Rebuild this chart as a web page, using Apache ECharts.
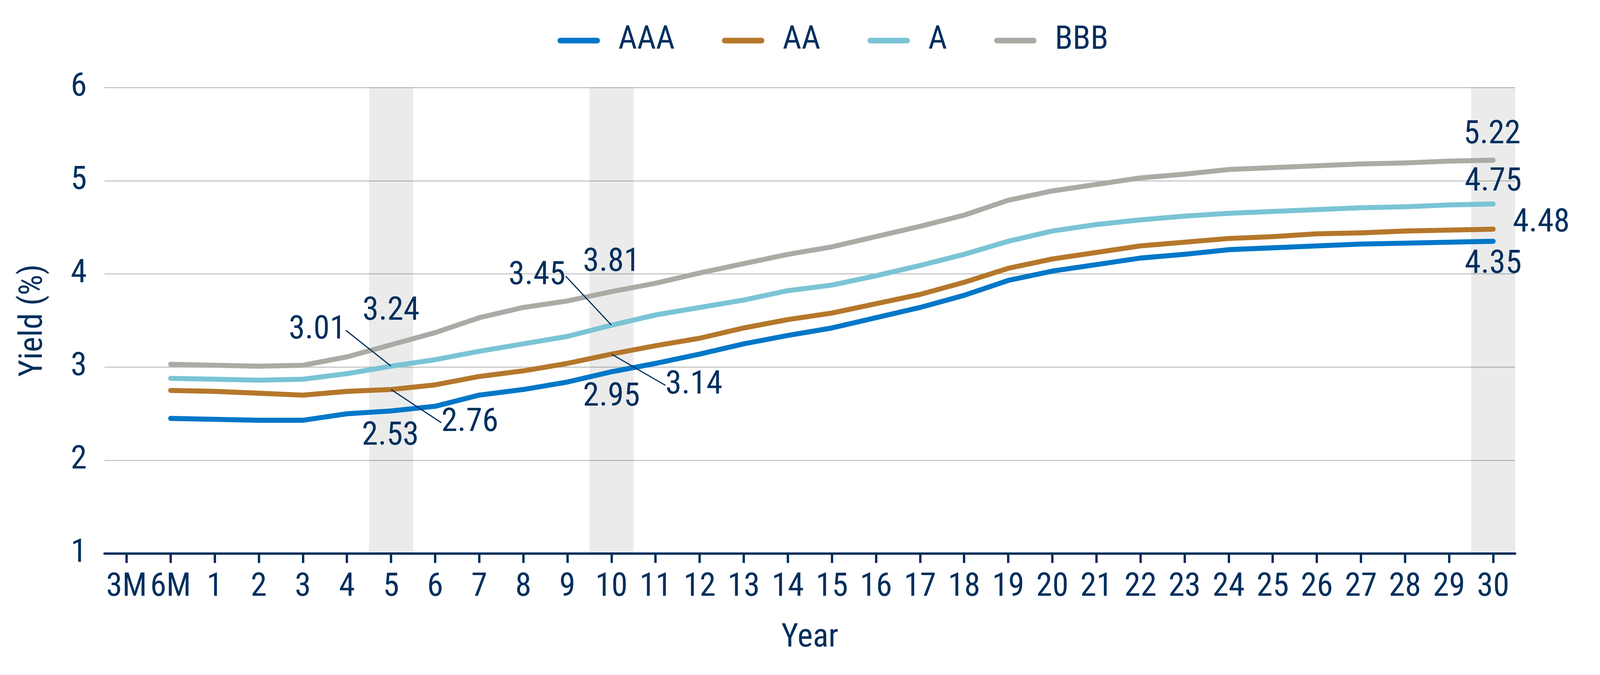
<!DOCTYPE html>
<html>
<head>
<meta charset="utf-8">
<script src="https://cdn.jsdelivr.net/npm/echarts@6/dist/echarts.min.js"></script>
<style>
  html, body { margin: 0; padding: 0; background: #ffffff; overflow: hidden; }
  #chart { position: absolute; left: 0; top: 0; }
</style>
</head>
<body>
<div id="chart"></div>
<script>
// ---------- data ----------
const categories = ['3M', '6M', '1', '2', '3', '4', '5', '6', '7', '8', '9', '10',
  '11', '12', '13', '14', '15', '16', '17', '18', '19', '20',
  '21', '22', '23', '24', '25', '26', '27', '28', '29', '30'];

const seriesNames = ['AAA', 'AA', 'A', 'BBB'];

const aaa = [null, 2.45, 2.44, 2.43, 2.43, 2.50, 2.53, 2.58, 2.70, 2.76, 2.84, 2.95,
  3.04, 3.14, 3.25, 3.34, 3.42, 3.53, 3.64, 3.77, 3.93, 4.03,
  4.10, 4.17, 4.21, 4.26, 4.28, 4.30, 4.32, 4.33, 4.34, 4.35];
const aa = [null, 2.75, 2.74, 2.72, 2.70, 2.74, 2.76, 2.81, 2.90, 2.96, 3.04, 3.14,
  3.23, 3.31, 3.42, 3.51, 3.58, 3.68, 3.78, 3.91, 4.06, 4.16,
  4.23, 4.30, 4.34, 4.38, 4.40, 4.43, 4.44, 4.46, 4.47, 4.48];
const a = [null, 2.88, 2.87, 2.86, 2.87, 2.93, 3.01, 3.08, 3.17, 3.25, 3.33, 3.45,
  3.56, 3.64, 3.72, 3.82, 3.88, 3.98, 4.09, 4.21, 4.35, 4.46,
  4.53, 4.58, 4.62, 4.65, 4.67, 4.69, 4.71, 4.72, 4.74, 4.75];
const bbb = [null, 3.03, 3.02, 3.01, 3.02, 3.11, 3.24, 3.37, 3.53, 3.64, 3.71, 3.81,
  3.90, 4.01, 4.11, 4.21, 4.29, 4.40, 4.51, 4.63, 4.79, 4.89,
  4.96, 5.03, 5.07, 5.12, 5.14, 5.16, 5.18, 5.19, 5.21, 5.22];

const highlightedYears = ['5', '10', '30'];

const yTicks = { min: 1, max: 6, interval: 1 };

// ---------- sizing (design is 4792 x 1729; scale to the actual viewport) ----------
const W = window.innerWidth || document.documentElement.clientWidth;
const H = window.innerHeight || document.documentElement.clientHeight;
const sx = W / 4792;
const sy = H / 1729;
const s = Math.min(sx, sy);
const PX = (v) => v * sx;
const PY = (v) => v * sy;
const PS = (v) => v * s;

const el = document.getElementById('chart');
el.style.width = W + 'px';
el.style.height = H + 'px';

// ---------- styles ----------
const TEXT = '#002F5D';
const FONT = "'Liberation Sans Narrow', 'Roboto Condensed', 'DejaVu Sans Condensed', Roboto, sans-serif";
const FS = PS(98);
const colors = { AAA: '#0077C8', AA: '#B5772B', A: '#7AC4D5', BBB: '#ABABA5' };

// label offsets (design px) from point to label centre, and whether a leader line is drawn
const labelStyle = {
  AAA: { '5': [-2, 65, false], '10': [0, 66, false], '30': [0, 60, false] },
  AA:  { '5': [236, 85, true], '10': [247, 80, true], '30': [144, -15, false] },
  A:   { '5': [-221, -92, true], '10': [-223, -126, true], '30': [0, -55, false] },
  BBB: { '5': [0, -85, false], '10': [0, -74, false], '30': [-3, -64, false] }
};

const valuesByName = { AAA: aaa, AA: aa, A: a, BBB: bbb };

function buildData(name) {
  const vals = valuesByName[name];
  return vals.map((v, i) => {
    const cat = categories[i];
    if (v === null) return '-';
    if (highlightedYears.indexOf(cat) >= 0) {
      return {
        value: v,
        label: { show: true, formatter: v.toFixed(2) },
        labelLine: { show: labelStyle[name][cat][2] }
      };
    }
    return v;
  });
}

const lineSeries = seriesNames.map((name) => ({
  name: name,
  type: 'line',
  data: buildData(name),
  color: colors[name],
  symbol: 'circle',
  symbolSize: 1,
  showSymbol: true,
  itemStyle: { color: colors[name] },
  lineStyle: { width: PS(15), color: colors[name], cap: 'round', join: 'round' },
  z: 3,
  silent: true,
  label: {
    show: false,
    position: 'inside',
    align: 'center',
    verticalAlign: 'middle',
    fontSize: FS,
    fontFamily: FONT,
    color: TEXT
  },
  labelLine: {
    show: false,
    smooth: false,
    lineStyle: { color: TEXT, width: PS(3.5) }
  },
  labelLayout: function (params) {
    const cat = categories[params.dataIndex];
    const st = labelStyle[name][cat];
    if (!st) return {};
    return { dx: PX(st[0]), dy: PY(st[1]) };
  },
  emphasis: { disabled: true }
}));

const bandSeries = {
  name: 'band',
  type: 'bar',
  data: categories.map((c) => (highlightedYears.indexOf(c) >= 0 ? yTicks.max : '-')),
  barWidth: '100%',
  barGap: '-100%',
  itemStyle: { color: 'rgba(0,0,0,0.08)' },
  clip: true,
  silent: true,
  z: 1
};

const chart = echarts.init(el, null, { renderer: 'canvas', width: W, height: H });

chart.setOption({
  animation: false,
  backgroundColor: '#ffffff',
  textStyle: { fontFamily: FONT, color: TEXT },
  legend: {
    data: seriesNames,
    left: PX(1664),
    top: PY(57),
    itemWidth: PS(127),
    itemHeight: PS(17),
    itemGap: PX(141),
    icon: 'path://M8.5,0H118.5A8.5,8.5,0,0,1,118.5,17H8.5A8.5,8.5,0,0,1,8.5,0Z',
    textStyle: { fontSize: FS, fontFamily: FONT, color: TEXT, padding: [0, 0, 0, PX(49)] },
    selectedMode: false
  },
  grid: { left: PX(313), right: PX(254), top: PY(224), bottom: PY(311), containLabel: false },
  xAxis: {
    type: 'category',
    data: categories,
    boundaryGap: true,
    name: 'Year',
    nameLocation: 'middle',
    nameGap: PY(175),
    nameTextStyle: { fontSize: FS, fontFamily: FONT, color: TEXT },
    axisLine: { show: true, lineStyle: { color: TEXT, width: PS(7) } },
    axisTick: { show: true, alignWithLabel: true, interval: 0, length: PY(24), lineStyle: { color: TEXT, width: PS(7) } },
    axisLabel: { interval: 0, margin: PY(45), fontSize: FS, fontFamily: FONT, color: TEXT, hideOverlap: false },
    splitLine: { show: false }
  },
  yAxis: {
    type: 'value',
    min: yTicks.min,
    max: yTicks.max,
    interval: yTicks.interval,
    name: 'Yield (%)',
    nameLocation: 'middle',
    nameGap: PX(163),
    nameTextStyle: { fontSize: FS, fontFamily: FONT, color: TEXT },
    axisLine: { show: false },
    axisTick: { show: false },
    axisLabel: { margin: PX(53), fontSize: FS, fontFamily: FONT, color: TEXT },
    splitLine: { show: true, lineStyle: { color: '#BFBFBF', width: PS(3) } }
  },
  series: lineSeries.concat([bandSeries])
});
</script>
</body>
</html>
